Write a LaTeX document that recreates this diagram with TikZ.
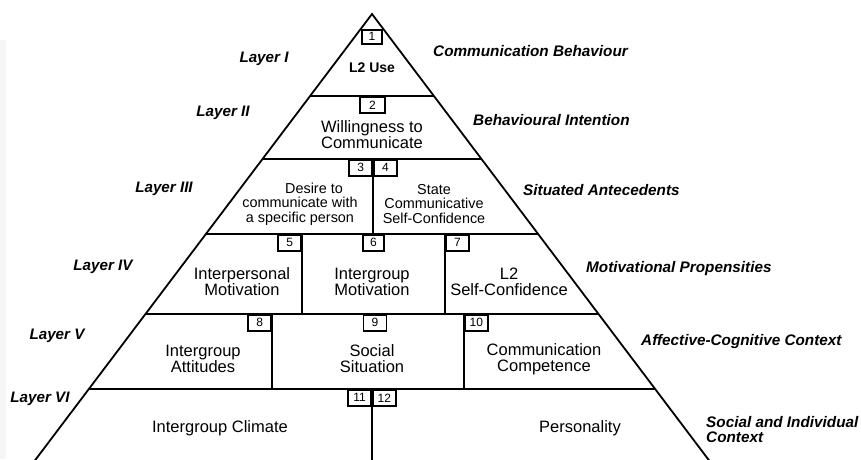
\documentclass[tikz,border=0pt]{standalone}
\usepackage{fontspec}
\setmainfont{Liberation Sans}
\begin{document}
\begin{tikzpicture}[x=1pt,y=-1pt,
  edge/.style={line width=1.8pt, line join=miter},
  numbox/.style={draw, fill=white, line width=1.7pt, minimum width=23pt, minimum height=16pt, inner sep=0pt, font=\fontsize{12}{12}\selectfont},
  cell/.style={align=center, font=\fontsize{16.5}{16}\selectfont, inner sep=0pt},
  cellsm/.style={align=center, font=\fontsize{14.4}{14.5}\selectfont, inner sep=0pt},
  layer/.style={font=\fontsize{15.2}{15}\selectfont\bfseries\itshape, inner sep=0pt},
  level/.style={font=\fontsize{15.3}{15}\selectfont\bfseries\itshape, inner sep=0pt, anchor=west, align=left},
]
\useasboundingbox (0,0) rectangle (861,459);
\fill[white] (0,0) rectangle (861,459);
\fill[gray!7] (0,40) rectangle (6,459);
\begin{scope}
\clip (0,0) rectangle (861,459);
% pyramid outline
\draw[edge] (27.7,470) -- (372,14) -- (716.3,470);
% layer separators
\draw[edge] (310.1,96) -- (433.9,96);
\draw[edge] (262.5,159) -- (481.5,159);
\draw[edge] (205.9,234) -- (538.1,234);
\draw[edge] (145.5,314) -- (598.5,314);
\draw[edge] (88.9,389) -- (655.1,389);
% vertical dividers
\draw[edge] (373,159) -- (373,234);
\draw[edge] (302,234) -- (302,314);
\draw[edge] (445,234) -- (445,314);
\draw[edge] (272,314) -- (272,389);
\draw[edge] (464,314) -- (464,389);
\draw[edge] (372,389) -- (372,470);
\end{scope}
% number boxes
\node[numbox, minimum width=20pt, minimum height=14pt, anchor=north] (n1) at (372,29) {1};
\node[numbox, minimum width=25pt, anchor=north] (n2) at (372.5,96) {2};
\node[numbox, anchor=north east] (n3) at (373,159) {3};
\node[numbox, anchor=north west] (n4) at (373,159) {4};
\node[numbox, anchor=north east] (n5) at (302,234) {5};
\node[numbox, minimum width=21pt, anchor=north] (n6) at (373.5,234) {6};
\node[numbox, anchor=north west] (n7) at (445,234) {7};
\node[numbox, anchor=north east] (n8) at (272,314) {8};
\node[numbox, anchor=north] (n9) at (375,314) {9};
\node[numbox, anchor=north west] (n10) at (464,314) {10};
\node[numbox, anchor=north east] (n11) at (372,389) {11};
\node[numbox, anchor=north west] (n12) at (372,389) {12};
% cell texts
\node[inner sep=0pt, font=\fontsize{14}{14}\selectfont\bfseries] (t1) at (372,68) {L2 Use};
\node[cell] (t2) at (372,135) {Willingness to\\Communicate};
\node[cellsm] (t3) at (300,204) {\hspace*{28pt}Desire to\\communicate with\\a specific person};
\node[cellsm] (t4) at (434,204) {State\\Communicative\\Self-Confidence};
\node[cell] (t5) at (242,282) {Interpersonal\\Motivation};
\node[cell] (t6) at (372,282) {Intergroup\\Motivation};
\node[cell] (t7) at (509,282) {L2\\Self-Confidence};
\node[cell] (t8) at (203,359) {Intergroup\\Attitudes};
\node[cell] (t9) at (372,359) {Social\\Situation};
\node[cell] (t10) at (544,359) {Communication\\Competence};
\node[cell] (t11) at (220,428) {Intergroup Climate};
\node[cell] (t12) at (580,428) {Personality};
% layer labels
\node[layer] (l1) at (264,59) {Layer I};
\node[layer] (l2) at (223,113) {Layer II};
\node[layer] (l3) at (164,189) {Layer III};
\node[layer] (l4) at (103,267) {Layer IV};
\node[layer] (l5) at (57,336) {Layer V};
\node[layer] (l6) at (40,399) {Layer VI};
% level labels
\node[level] (r1) at (433,51) {Communication Behaviour};
\node[level] (r2) at (473,120) {Behavioural Intention};
\node[level] (r3) at (523,190) {Situated Antecedents};
\node[level] (r4) at (586,269) {Motivational Propensities};
\node[level] (r5) at (641,342) {Affective-Cognitive Context};
\node[level] (r6) at (706,429.5) {Social and Individual\\Context};
\end{tikzpicture}
\end{document}
